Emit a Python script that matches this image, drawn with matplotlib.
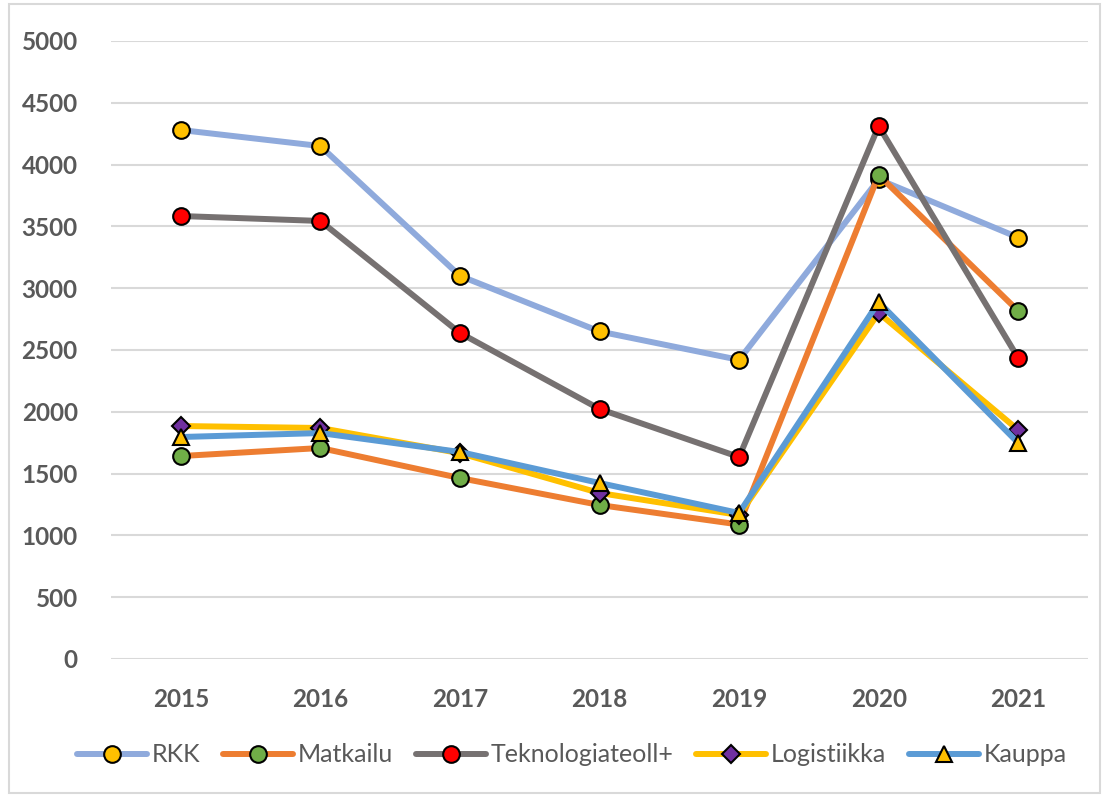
import matplotlib
matplotlib.use("Agg")
import matplotlib.pyplot as plt
from matplotlib.patches import Rectangle

years = ["2015", "2016", "2017", "2018", "2019", "2020", "2021"]
rkk = [4280, 4150, 3100, 2650, 2420, 3880, 3410]
matkailu = [1642, 1707, 1464, 1246, 1088, 3916, 2816]
teknologia = [3584, 3544, 2638, 2023, 1634, 4312, 2435]
logistiikka = [1885, 1869, 1665, 1343, 1165, 2800, 1853]
kauppa = [1796, 1828, 1675, 1424, 1181, 2888, 1748]

series = [
    ("RKK", rkk, "#8FAADC", "o", "#FFC000"),
    ("Matkailu", matkailu, "#ED7D31", "o", "#70AD47"),
    ("Teknologiateoll+", teknologia, "#767171", "o", "#FF0000"),
    ("Logistiikka", logistiikka, "#FFC000", "D", "#7030A0"),
    ("Kauppa", kauppa, "#5B9BD5", "^", "#FFC000"),
]

plt.rcParams['font.family'] = ['Lato', 'DejaVu Sans']

fig = plt.figure(figsize=(11.08, 7.97), dpi=100)
ax = fig.add_axes([111/1108, 138/797, (1088-111)/1108, (659-41)/797])

x = list(range(len(years)))
for name, vals, lc, mk, mc in series:
    ms = 12 if mk == "o" else (9 if mk == "D" else 12)
    ax.plot(x, vals, color=lc, linewidth=4.3, marker=mk, markersize=ms,
            markerfacecolor=mc, markeredgecolor="black", markeredgewidth=1.5,
            label=name, solid_joinstyle="round", solid_capstyle="round")

ax.set_xlim(-0.5, len(years) - 0.5)
ax.set_ylim(0, 5000)
ax.set_yticks(range(0, 5001, 500))
ax.set_xticks(x)
ax.set_xticklabels(years)
ax.yaxis.grid(True, color="#D9D9D9", linewidth=1.5)
ax.set_axisbelow(True)
for s in ax.spines.values():
    s.set_visible(False)
ax.tick_params(length=0)
ax.tick_params(axis="y", pad=24)
ax.tick_params(axis="x", pad=21)
for lbl in ax.get_xticklabels() + ax.get_yticklabels():
    lbl.set_fontsize(17.5)
    lbl.set_fontweight("bold")
    lbl.set_color("#595959")

leg = fig.legend(loc="center", bbox_to_anchor=(0.516, (797-755)/797),
                 ncol=5, frameon=False, fontsize=18, handlelength=2.8,
                 columnspacing=0.9, handletextpad=0.2, labelcolor="#595959")

fig.patches.append(Rectangle((0.008, 0.005), 0.985, 0.99, transform=fig.transFigure,
                             fill=False, edgecolor="#D9D9D9", linewidth=1.5))

fig.savefig("out.png", dpi=100)
